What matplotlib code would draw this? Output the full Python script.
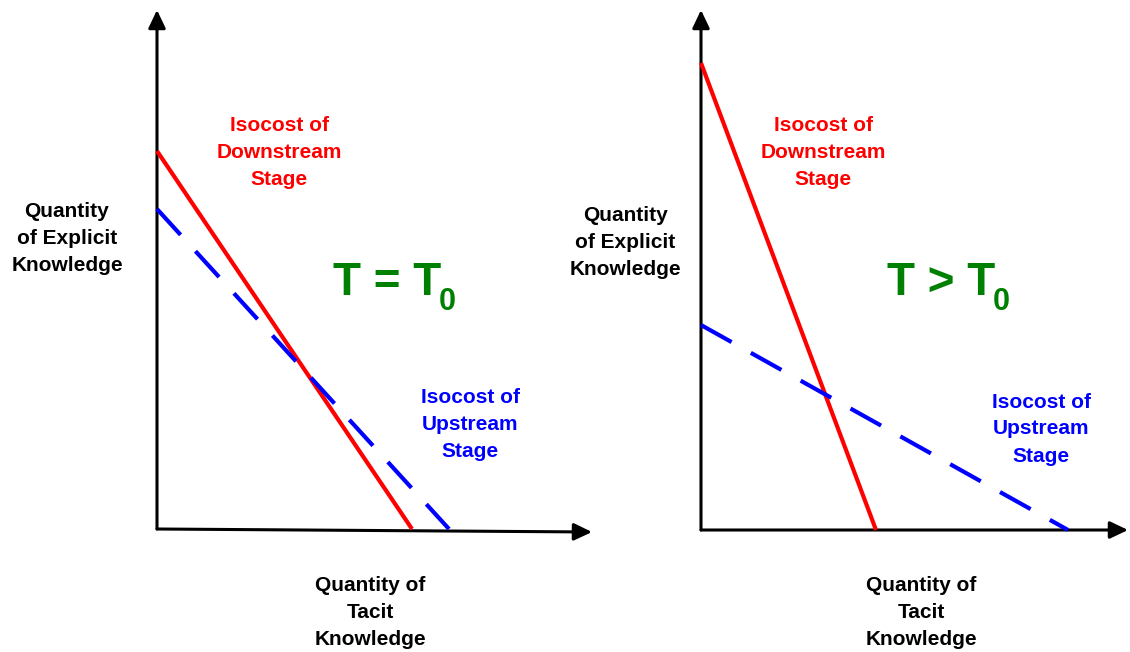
import matplotlib
matplotlib.use("Agg")
import matplotlib.pyplot as plt

plt.rcParams['font.family'] = ['Liberation Sans', 'DejaVu Sans']

# ---- data (arbitrary quantity units) ----
panel_names = ["T = T0", "T > T0"]
downstream_y_intercept = [3.78, 4.67]
downstream_x_intercept = [2.55, 1.75]
upstream_y_intercept = [3.20, 2.05]
upstream_x_intercept = [2.92, 3.67]
axis_x_max = [4.35, 4.27]
axis_y_max = [5.19, 5.20]
condition_main = ["T = T", "T > T"]
condition_sub = ["0", "0"]

label_downstream = "Isocost of\nDownstream\nStage"
label_upstream = "Isocost of\nUpstream\nStage"
label_explicit = "Quantity\nof Explicit\nKnowledge"
label_tacit = "Quantity of\nTacit\nKnowledge"

# ---- layout ----
RED = "#FF0000"
BLUE = "#0000FF"
GREEN = "#008000"

fig = plt.figure(figsize=(11.3, 6.52), dpi=100)
W, H = 1130.0, 652.0
axes_px = [(157, 529, 435, 519), (701, 530, 427, 520)]  # origin x, origin y, width, height (pixels)

# label anchors (data units of each panel): (x, middle-line baseline y)
pos_downstream = [(1.22, 3.71), (1.22, 3.72)]
pos_upstream = [(3.13, 0.99), (3.40, 0.955)]
pos_explicit = [(-0.90, 2.85), (-0.76, 2.82)]
pos_tacit = [(2.13, -0.89), (2.20, -0.88)]
pos_cond = [(1.76, 2.34), (1.86, 2.35)]
pos_sub = [(2.82, 2.19), (2.92, 2.20)]
x_axis_drop = [0.03, 0.0]

LINE_SP = 27 * 0.72  # points between baselines


def stacked(ax, xy, s, color, size=15):
    lines = s.split("\n")
    n = len(lines)
    for i, line in enumerate(lines):
        off = ((n - 1) / 2 - i) * LINE_SP
        ax.annotate(line, xy, xytext=(0, off), textcoords='offset points',
                    ha='center', va='baseline', color=color, fontsize=size,
                    fontweight='bold', annotation_clip=False)


for i in range(2):
    ox, oy, w, h = axes_px[i]
    ax = fig.add_axes([ox / W, (H - oy) / H, w / W, h / H])
    ax.set_xlim(0, axis_x_max[i])
    ax.set_ylim(0, axis_y_max[i])
    ax.axis('off')

    arrow = dict(arrowstyle='-|>,head_length=0.42,head_width=0.2', color='black',
                 lw=2.2, mutation_scale=26, shrinkA=0, shrinkB=0)
    ax.annotate('', xy=(0, axis_y_max[i]), xytext=(0, 0), arrowprops=arrow,
                annotation_clip=False)
    ax.annotate('', xy=(axis_x_max[i], -x_axis_drop[i]), xytext=(0, 0), arrowprops=arrow,
                annotation_clip=False)

    ax.plot([0, downstream_x_intercept[i]], [downstream_y_intercept[i], 0],
            color=RED, lw=3, solid_capstyle='butt', clip_on=False, zorder=3)
    ax.plot([0, upstream_x_intercept[i]], [upstream_y_intercept[i], 0],
            color=BLUE, lw=3, dashes=(8.4, 5.3), clip_on=False, zorder=4)

    stacked(ax, pos_downstream[i], label_downstream, RED)
    stacked(ax, pos_upstream[i], label_upstream, BLUE)
    stacked(ax, pos_explicit[i], label_explicit, 'black')
    stacked(ax, pos_tacit[i], label_tacit, 'black')

    ax.text(pos_cond[i][0], pos_cond[i][1], condition_main[i], color=GREEN,
            fontsize=33, fontweight='bold', ha='left', va='baseline')
    ax.text(pos_sub[i][0], pos_sub[i][1], condition_sub[i], color=GREEN,
            fontsize=22, fontweight='bold', ha='left', va='baseline')

fig.savefig("out.png", dpi=100, facecolor='white')
